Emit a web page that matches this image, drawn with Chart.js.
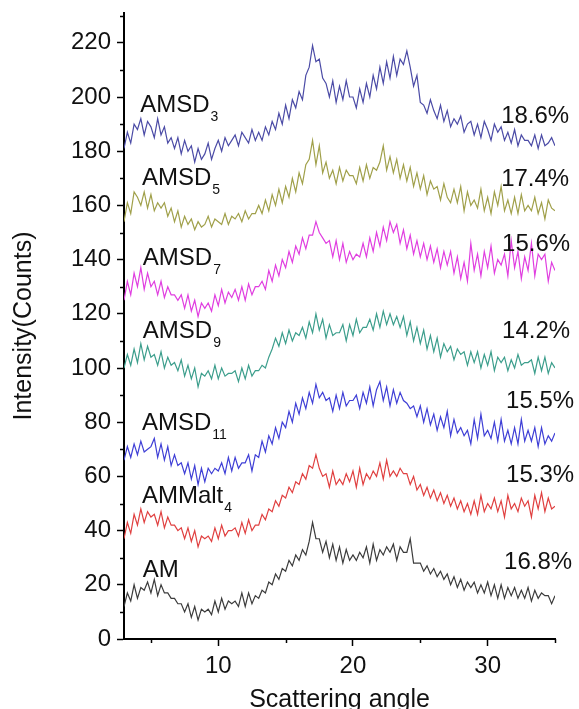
<!DOCTYPE html>
<html>
<head>
<meta charset="utf-8">
<script src="https://cdn.jsdelivr.net/npm/chart.js@4.4.1/dist/chart.umd.min.js"></script>
<style>
html,body{margin:0;padding:0;background:#fff;}
#chart{display:block;}
</style>
</head>
<body>
<canvas id="chart" width="579" height="709"></canvas>
<script>
/* data */

const angles = [
3,3.25,3.5,3.75, 4,4.25,4.5,4.75, 5,5.25,5.5,5.75, 6,6.25,6.5,6.75,
7,7.25,7.5,7.75, 8,8.25,8.5,8.75, 9,9.25,9.5,9.75, 10,10.25,10.5,10.75,
11,11.25,11.5,11.75, 12,12.25,12.5,12.75, 13,13.25,13.5,13.75, 14,14.25,14.5,14.75,
15,15.25,15.5,15.75, 16,16.25,16.5,16.75, 17,17.25,17.5,17.75, 18,18.25,18.5,18.75,
19,19.25,19.5,19.75, 20,20.25,20.5,20.75, 21,21.25,21.5,21.75, 22,22.25,22.5,22.75,
23,23.25,23.5,23.75, 24,24.25,24.5,24.75, 25,25.25,25.5,25.75, 26,26.25,26.5,26.75,
27,27.25,27.5,27.75, 28,28.25,28.5,28.75, 29,29.25,29.5,29.75, 30,30.25,30.5,30.75,
31,31.25,31.5,31.75, 32,32.25,32.5,32.75, 33,33.25,33.5,33.75, 34,34.25,34.5,34.75,
35
];

const amsd3 = [
181,187,183,190, 188,192,186,191, 189,185,192,186, 189,183,185,181,
185,179,184,180, 182,176,181,177, 179,183,177,181, 184,180,185,182,
184,186,182,187, 185,183,188,184, 187,184,189,186, 191,188,194,190,
197,192,199,196, 202,199,208,211, 219,213,214,207, 205,200,206,198,
204,199,206,200, 200,196,203,198, 205,200,208,203, 211,205,213,207,
215,208,214,212, 217,211,204,208, 198,197,194,199, 195,192,197,191,
195,189,192,190, 193,187,190,191, 186,190,185,191, 188,184,190,187,
189,184,187,183, 188,182,186,184, 184,182,186,181, 186,182,183,185,
182
];

const amsd5 = [
154,161,157,165, 163,160,165,159, 164,158,161,159, 161,156,159,154,
158,152,156,153, 155,151,154,152, 153,156,152,155, 154,153,157,153,
156,155,157,154, 158,155,157,157, 160,157,162,158, 164,160,166,161,
167,163,170,165, 172,168,175,177, 184,175,182,172, 176,170,173,168,
174,169,173,171, 171,168,174,169, 175,170,174,173, 176,182,173,178,
172,177,170,175, 169,174,167,172, 166,171,164,169, 166,167,162,168,
163,161,166,161, 167,158,165,160, 162,159,166,158, 163,157,165,160,
167,158,162,157, 163,157,164,158, 160,158,163,157, 161,155,162,159,
158
];

const amsd7 = [
125,132,127,135, 130,137,129,135, 130,132,127,132, 126,130,127,127,
125,127,122,127, 121,125,119,124, 122,124,121,127, 123,129,124,128,
126,129,125,130, 125,131,127,130, 130,132,129,136, 132,138,134,140,
137,143,139,145, 142,148,144,149, 149,154,150,148, 146,147,141,147,
140,146,139,143, 140,142,141,146, 141,148,143,150, 145,152,147,154,
150,153,146,151, 144,149,142,147, 141,146,140,145, 139,144,137,143,
138,143,135,141, 133,139,132,146, 136,142,134,143, 137,145,135,140,
138,142,134,147, 137,143,133,141, 136,146,134,142, 140,142,132,139,
136
];

const amsd9 = [
100,105,101,107, 102,109,103,108, 104,105,101,106, 100,104,101,102,
99,103,97,101, 96,100,93,98, 97,99,96,101, 96,100,97,98,
98,99,95,100, 96,101,97,99, 99,101,100,104, 107,111,108,113,
109,114,110,113, 112,115,111,117, 113,120,114,118, 111,116,112,113,
113,116,110,116, 112,118,113,115, 115,118,114,120, 115,121,116,120,
116,119,115,119, 112,117,110,115, 109,114,107,112, 106,111,104,109,
106,108,103,107, 105,106,101,106, 102,106,100,105, 101,106,99,104,
102,104,99,103, 100,105,101,102, 102,103,98,104, 99,104,98,102,
100
];

const amsd11 = [
66,71,67,72, 68,73,69,70, 71,74,67,72, 66,71,64,68,
64,65,61,65, 59,64,57,63, 58,63,61,63, 62,65,61,67,
62,67,63,65, 65,68,62,68, 67,73,69,75, 72,78,74,80,
78,84,80,87, 83,89,85,91, 87,94,89,91, 88,89,84,90,
85,91,86,88, 88,90,85,91, 87,93,86,92, 95,88,93,86,
92,87,91,88, 87,85,86,82, 86,80,85,79, 83,77,82,78,
84,75,81,76, 78,75,77,72, 81,74,83,75, 77,74,80,73,
81,73,77,72, 78,72,81,73, 77,73,78,71, 78,72,75,73,
76
];

const ammalt4 = [
37,43,39,46, 42,48,43,47, 45,46,42,47, 41,45,42,42,
40,41,37,41, 36,40,34,38, 37,38,36,41, 37,42,38,40,
40,41,38,43, 39,44,40,42, 42,46,44,48, 47,51,49,53,
52,56,54,58, 57,61,59,64, 63,68,63,60, 61,56,62,57,
59,57,61,58, 62,56,63,57, 61,59,62,60, 65,59,66,60,
62,60,63,61, 61,57,60,55, 57,53,56,52, 55,51,54,50,
53,49,52,48, 51,47,50,46, 51,46,53,47, 50,48,52,47,
51,45,53,48, 50,47,52,49, 51,45,53,48, 54,47,52,48,
49
];

const am = [
12,17,14,20, 15,19,18,21, 17,22,16,20, 17,17,15,15,
13,13,10,13, 8,12,7,11, 10,11,9,14, 10,15,11,14,
13,14,12,17, 12,17,13,16, 15,18,17,21, 20,24,22,26,
25,29,27,31, 29,33,31,36, 43,37,37,32, 36,30,35,29,
34,28,33,29, 31,29,32,30, 34,28,35,29, 33,31,34,32,
35,29,34,32, 32,37,28,28, 28,25,27,24, 26,23,25,22,
24,20,23,19, 22,18,21,19, 21,17,20,17, 21,16,20,15,
20,15,19,16, 19,15,18,15, 19,14,18,15, 17,16,16,13,
16
];

const seriesNames = ["AMSD3", "AMSD5", "AMSD7", "AMSD9", "AMSD11", "AMMalt4", "AM"];
const seriesValues = [amsd3, amsd5, amsd7, amsd9, amsd11, ammalt4, am];
const labelMain = ["AMSD", "AMSD", "AMSD", "AMSD", "AMSD", "AMMalt", "AM"];
const labelSub = ["3", "5", "7", "9", "11", "4", ""];
const percents = ["18.6%", "17.4%", "15.6%", "14.2%", "15.5%", "15.3%", "16.8%"];

const xTicks = [10, 20, 30];
const xMinorTicks = [5, 15, 25, 35];
const yTicks = [0, 20, 40, 60, 80, 100, 120, 140, 160, 180, 200, 220];
const yMinorTicks = [10, 30, 50, 70, 90, 110, 130, 150, 170, 190, 210, 230];

/* styles */

const colors = ["#4b4ba6", "#a0a04a", "#e03ee0", "#3c9e8c", "#3f3fd6", "#e04040", "#3c3c3c"];
const labelAt = [[4.2, 194.5], [4.33, 167.6], [4.4, 138.1], [4.4, 111.1], [4.33, 77.2], [4.33, 50.2], [4.4, 22.9]];
const percentAt = [[31.0, 190.5], [31.0, 167.1], [31.07, 143.2], [31.07, 111.1], [31.37, 85.2], [31.37, 58.0], [31.22, 26.0]];
const fontFamily = "'Liberation Sans', Arial, sans-serif";

/* minor ticks + curve labels */

const extrasPlugin = {
id: "extras",
afterDraw(chart){
const ctx = chart.ctx;
const xs = chart.scales.x;
const ys = chart.scales.y;
const area = chart.chartArea;

ctx.save();
ctx.strokeStyle = "#000";
ctx.lineWidth = 1.5;

xMinorTicks.forEach(v => {
let px = Math.round(xs.getPixelForValue(v)) + 0.5;
ctx.beginPath();
ctx.moveTo(px, area.bottom);
ctx.lineTo(px, area.bottom + 4);
ctx.stroke();
});

yMinorTicks.forEach(v => {
let py = Math.round(ys.getPixelForValue(v)) + 0.5;
ctx.beginPath();
ctx.moveTo(area.left, py);
ctx.lineTo(area.left - 4, py);
ctx.stroke();
});

ctx.fillStyle = "#111";
ctx.textAlign = "left";
ctx.textBaseline = "alphabetic";

labelMain.forEach((text, i) => {
let px = xs.getPixelForValue(labelAt[i][0]);
let py = ys.getPixelForValue(labelAt[i][1]);
ctx.font = "24px " + fontFamily;
ctx.fillText(text, px, py);
if(labelSub[i]){
let w = ctx.measureText(text).width;
ctx.font = "14px " + fontFamily;
ctx.fillText(labelSub[i], px + w + 1, py + 9);
}
});

ctx.font = "24px " + fontFamily;
percents.forEach((text, i) => {
let px = xs.getPixelForValue(percentAt[i][0]);
let py = ys.getPixelForValue(percentAt[i][1]);
ctx.fillText(text, px, py);
});

ctx.restore();
}
};

/* chart */

new Chart(document.getElementById("chart"), {
type: "line",
data: {
labels: angles,
datasets: seriesValues.map((values, i) => ({
label: seriesNames[i],
data: values,
borderColor: colors[i],
borderWidth: 1.2,
pointRadius: 0,
tension: 0,
fill: false
}))
},
options: {
responsive: false,
animation: false,
layout: {padding: {top: 13, right: 24, left: 0, bottom: 0}},
plugins: {
legend: {display: false},
tooltip: {enabled: false}
},
scales: {
x: {
type: "linear",
min: 3,
max: 35,
afterBuildTicks: scale => { scale.ticks = xTicks.map(v => ({value: v})); },
afterFit: scale => { scale.height = 70; scale.paddingLeft = 0; scale.paddingRight = 0; },
border: {color: "#000", width: 2},
grid: {drawOnChartArea: false, drawTicks: true, tickLength: 7, tickColor: "#000", tickWidth: 1.5},
ticks: {color: "#111", font: {family: fontFamily, size: 24}, padding: 6, maxRotation: 0, autoSkip: false},
title: {display: true, text: "Scattering angle", color: "#111", font: {family: fontFamily, size: 25, lineHeight: 0.7}, padding: {top: 0, bottom: 0}}
},
y: {
min: 0,
max: 231,
afterBuildTicks: scale => { scale.ticks = yTicks.map(v => ({value: v})); },
afterFit: scale => { scale.width = 124; scale.paddingTop = 0; scale.paddingBottom = 0; },
border: {color: "#000", width: 2},
grid: {drawOnChartArea: false, drawTicks: true, tickLength: 7, tickColor: "#000", tickWidth: 1.5},
ticks: {color: "#111", font: {family: fontFamily, size: 24}, padding: 6, autoSkip: false},
title: {display: true, text: "Intensity(Counts)", color: "#111", font: {family: fontFamily, size: 25, lineHeight: 1.2}, padding: {top: 9, bottom: 0}}
}
}
},
plugins: [extrasPlugin]
});
</script>
</body>
</html>
